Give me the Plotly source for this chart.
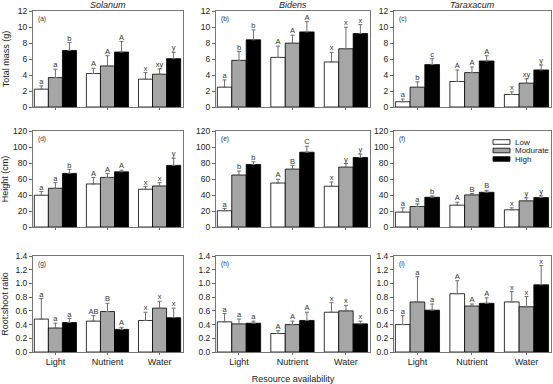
import plotly.graph_objects as go

categories = ["Light", "Nutrient", "Water"]
levels = ["Low", "Modurate", "High"]
species = ["Solanum", "Bidens", "Taraxacum"]
panel_tags = ["(a)", "(b)", "(c)", "(d)", "(e)", "(f)", "(g)", "(h)", "(i)"]

# Rows of each array: Low, Modurate, High; columns: Light, Nutrient, Water
mass_solanum = [[2.23, 4.18, 3.48], [3.68, 5.13, 4.10], [7.07, 6.87, 6.04]]
mass_solanum_se = [[0.42, 0.66, 0.82], [1.04, 1.28, 0.66], [1.00, 1.32, 0.79]]
mass_solanum_letters = [["a", "A", "x"], ["a", "A", "xy"], ["b", "A", "y"]]

mass_bidens = [[2.48, 6.20, 5.63], [5.83, 7.98, 7.28], [8.40, 9.39, 9.18]]
mass_bidens_se = [[0.91, 1.41, 1.20], [1.12, 1.00, 2.69], [1.24, 1.28, 1.12]]
mass_bidens_letters = [["a", "A", "x"], ["b", "A", "x"], ["b", "A", "x"]]

mass_taraxacum = [[0.66, 3.19, 1.57], [2.48, 4.30, 2.98], [5.30, 5.75, 4.63]]
mass_taraxacum_se = [[0.33, 1.44, 0.33], [0.66, 0.70, 0.54], [0.74, 0.66, 0.62]]
mass_taraxacum_letters = [["a", "A", "x"], ["b", "A", "xy"], ["c", "A", "y"]]

height_solanum = [[39.7, 53.8, 47.2], [48.4, 62.0, 51.3], [67.0, 69.0, 77.0]]
height_solanum_se = [[4.6, 8.2, 3.3], [7.0, 5.0, 4.1], [5.0, 2.0, 9.0]]
height_solanum_letters = [["a", "A", "x"], ["a", "A", "x"], ["b", "A", "y"]]

height_bidens = [[20.3, 55.0, 50.9], [65.0, 72.4, 74.9], [78.2, 93.5, 86.9]]
height_bidens_se = [[2.9, 4.6, 5.4], [5.0, 4.6, 4.5], [3.3, 7.5, 4.1]]
height_bidens_letters = [["a", "A", "x"], ["b", "B", "y"], ["b", "C", "y"]]

height_taraxacum = [[18.6, 27.3, 21.5], [25.7, 40.1, 32.7], [37.2, 43.4, 36.8]]
height_taraxacum_se = [[5.4, 3.7, 2.5], [3.3, 1.7, 3.7], [1.7, 2.5, 2.1]]
height_taraxacum_letters = [["a", "A", "x"], ["a", "B", "y"], ["b", "B", "y"]]

ratio_solanum = [[0.48, 0.45, 0.46], [0.35, 0.59, 0.64], [0.43, 0.33, 0.50]]
ratio_solanum_se = [[0.30, 0.08, 0.12], [0.07, 0.12, 0.10], [0.06, 0.03, 0.14]]
ratio_solanum_letters = [["a", "AB", "x"], ["a", "B", "x"], ["a", "A", "x"]]

ratio_bidens = [[0.44, 0.27, 0.58], [0.41, 0.40, 0.60], [0.42, 0.46, 0.41]]
ratio_bidens_se = [[0.12, 0.04, 0.14], [0.07, 0.05, 0.08], [0.03, 0.12, 0.04]]
ratio_bidens_letters = [["a", "A", "x"], ["a", "A", "x"], ["a", "A", "x"]]

ratio_taraxacum = [[0.40, 0.85, 0.73], [0.73, 0.67, 0.66], [0.61, 0.71, 0.98]]
ratio_taraxacum_se = [[0.13, 0.19, 0.15], [0.37, 0.03, 0.15], [0.09, 0.08, 0.28]]
ratio_taraxacum_letters = [["a", "A", "x"], ["a", "A", "x"], ["a", "A", "x"]]

y_titles = ["Total mass (g)", "Height (cm)", "Root:shoot ratio"]
y_ranges = [[0, 12], [0, 120], [0, 1.4]]
y_dticks = [2, 20, 0.2]
x_title = "Resource availability"

panels = [
    (mass_solanum, mass_solanum_se, mass_solanum_letters),
    (mass_bidens, mass_bidens_se, mass_bidens_letters),
    (mass_taraxacum, mass_taraxacum_se, mass_taraxacum_letters),
    (height_solanum, height_solanum_se, height_solanum_letters),
    (height_bidens, height_bidens_se, height_bidens_letters),
    (height_taraxacum, height_taraxacum_se, height_taraxacum_letters),
    (ratio_solanum, ratio_solanum_se, ratio_solanum_letters),
    (ratio_bidens, ratio_bidens_se, ratio_bidens_letters),
    (ratio_taraxacum, ratio_taraxacum_se, ratio_taraxacum_letters),
]

fills = ["#ffffff", "#a6a6a6", "#000000"]
FONT = "Liberation Sans, Arial, sans-serif"
W, H = 553, 384
col_px = [(33, 183), (216, 370), (394, 551)]
row_px = [(11, 107), (131, 227), (256, 352)]
bar_w = 0.27

fig = go.Figure()
layout = {}
annotations = []
shapes = []

for p, (means, ses, letters) in enumerate(panels):
    r, c = divmod(p, 3)
    n = p + 1
    xa = "x" if n == 1 else f"x{n}"
    ya = "y" if n == 1 else f"y{n}"
    for k in range(3):
        xs = [i + (k - 1) * bar_w for i in range(len(categories))]
        fig.add_trace(go.Bar(
            x=xs, y=means[k], width=bar_w, xaxis=xa, yaxis=ya,
            name=levels[k], showlegend=False,
            marker=dict(color=fills[k], line=dict(color="#000000", width=0.8)),
            error_y=dict(type="data", array=ses[k], arrayminus=[0] * 3, symmetric=False,
                         color="#6e6e6e", thickness=1, width=2),
        ))
        tops = [m + s for m, s in zip(means[k], ses[k])]
        fig.add_trace(go.Scatter(
            x=xs, y=tops, xaxis=xa, yaxis=ya, mode="text", text=letters[k],
            textposition="top center", showlegend=False, hoverinfo="skip",
            textfont=dict(family=FONT, size=7.5, color="#333333"),
        ))
    x0, x1 = col_px[c]
    y0, y1 = row_px[r]
    xkey = "xaxis" if n == 1 else f"xaxis{n}"
    ykey = "yaxis" if n == 1 else f"yaxis{n}"
    layout[xkey] = dict(
        domain=[x0 / W, x1 / W], anchor=ya, range=[-0.43, 2.45],
        tickvals=list(range(len(categories))), ticktext=categories,
        showticklabels=(r == 2), ticks="outside", ticklen=2, tickcolor="#666666",
        ticklabelstandoff=-1,
        showline=True, linecolor="#777777", linewidth=1, mirror=True,
        showgrid=False, zeroline=False, automargin=False,
        tickfont=dict(family=FONT, size=9, color="#222222"),
        title=dict(text=x_title if (r == 2 and c == 1) else "",
                   font=dict(family=FONT, size=9, color="#222222"), standoff=10),
    )
    layout[ykey] = dict(
        domain=[1 - y1 / H, 1 - y0 / H], anchor=xa, range=y_ranges[r], dtick=y_dticks[r],
        tickformat=".1f" if r == 2 else "d",
        ticks="outside", ticklen=3, tickcolor="#666666",
        showline=True, linecolor="#777777", linewidth=1, mirror=True,
        showgrid=False, zeroline=False, automargin=False,
        tickfont=dict(family=FONT, size=8.5, color="#222222"),
        title=dict(text=y_titles[r] if c == 0 else "",
                   font=dict(family=FONT, size=9, color="#222222"), standoff=6),
    )
    annotations.append(dict(
        text=panel_tags[p], xref=f"{xa} domain", yref=f"{ya} domain", x=0.02, y=0.98,
        xanchor="left", yanchor="top", showarrow=False,
        font=dict(family=FONT, size=6.5, color="#333333"),
    ))

for c, sp in enumerate(species):
    x0, x1 = col_px[c]
    annotations.append(dict(
        text=f"<i>{sp}</i>", xref="paper", yref="paper", x=(x0 + x1) / 2 / W, y=1 - 11 / H,
        xanchor="center", yanchor="bottom", yshift=-1, showarrow=False,
        font=dict(family=FONT, size=9, color="#222222"),
    ))

# Legend (drawn in panel f as swatches + labels)
leg_x0, leg_x1, leg_tx = 493, 510, 513
leg_y = [142, 150.5, 159]
for k, lev in enumerate(levels):
    shapes.append(dict(
        type="rect", xref="paper", yref="paper",
        x0=leg_x0 / W, x1=leg_x1 / W,
        y0=1 - (leg_y[k] + 2.3) / H, y1=1 - (leg_y[k] - 2.3) / H,
        fillcolor=fills[k], line=dict(color="#000000", width=0.8),
    ))
    annotations.append(dict(
        text=lev, xref="paper", yref="paper", x=leg_tx / W, y=1 - leg_y[k] / H,
        xanchor="left", yanchor="middle", showarrow=False,
        font=dict(family=FONT, size=8, color="#222222"),
    ))

fig.update_layout(
    **layout,
    annotations=annotations,
    shapes=shapes,
    width=W, height=H, margin=dict(l=0, r=0, t=0, b=0),
    paper_bgcolor="white", plot_bgcolor="white",
    barmode="overlay", showlegend=False,
    font=dict(family=FONT, size=8, color="#222222"),
)

fig.write_html("out.html", config={"displayModeBar": False},
               post_script="document.body.style.margin='0';")
